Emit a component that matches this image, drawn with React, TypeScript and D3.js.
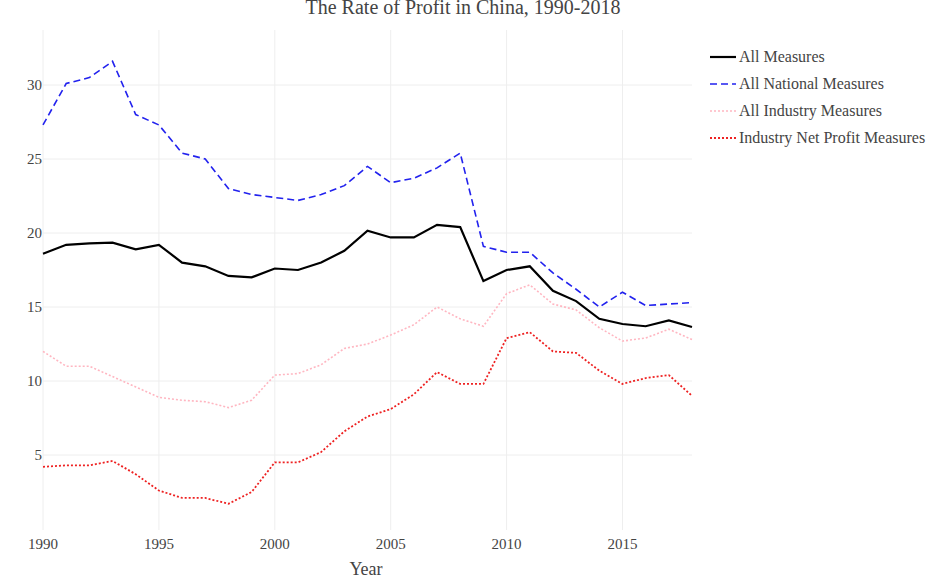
import React from 'react';
import * as d3 from 'd3';

const years = d3.range(1990, 2019);
const allMeasures = [18.6, 19.2, 19.3, 19.35, 18.9, 19.2, 18.0, 17.75, 17.1, 17.0, 17.6, 17.5, 18.0, 18.8, 20.15, 19.7, 19.7, 20.55, 20.4, 16.75, 17.5, 17.75, 16.1, 15.4, 14.2, 13.85, 13.7, 14.1, 13.65];
const national = [27.3, 30.1, 30.5, 31.6, 28.0, 27.3, 25.4, 25.0, 23.0, 22.6, 22.4, 22.2, 22.6, 23.2, 24.5, 23.4, 23.7, 24.4, 25.4, 19.1, 18.7, 18.7, 17.3, 16.2, 15.0, 16.0, 15.1, 15.2, 15.3];
const industry = [12.0, 11.0, 11.0, 10.3, 9.6, 8.9, 8.7, 8.6, 8.2, 8.7, 10.4, 10.5, 11.1, 12.2, 12.5, 13.1, 13.8, 15.0, 14.2, 13.7, 15.9, 16.5, 15.2, 14.8, 13.6, 12.7, 12.9, 13.5, 12.8];
const netProfit = [4.2, 4.3, 4.3, 4.6, 3.7, 2.6, 2.1, 2.1, 1.7, 2.5, 4.5, 4.5, 5.2, 6.6, 7.6, 8.1, 9.1, 10.6, 9.8, 9.8, 12.9, 13.3, 12.0, 11.9, 10.7, 9.8, 10.2, 10.4, 9.0];
const xTicks = [1990, 1995, 2000, 2005, 2010, 2015];
const yTicks = [5, 10, 15, 20, 25, 30];

const series = [
  { name: 'All Measures', values: allMeasures, color: '#000', width: 2.2, dash: '' },
  { name: 'All National Measures', values: national, color: '#2222ee', width: 1.6, dash: '7,4' },
  { name: 'All Industry Measures', values: industry, color: '#ffb6c1', width: 1.6, dash: '2,2' },
  { name: 'Industry Net Profit Measures', values: netProfit, color: '#ee2222', width: 1.8, dash: '2,2' },
];

export default function App() {
  const x = d3.scaleLinear().domain([1990, 2018]).range([43, 692]);
  const y = d3.scaleLinear().domain([5, 30]).range([455, 85]);
  const line = d3.line<number>().x((_, i) => x(years[i])).y(d => y(d));
  const font = '"Liberation Serif", "Times New Roman", serif';
  return (
    <svg width={932} height={581} style={{ position: 'absolute', left: 0, top: 0, fontFamily: font }}>
      <rect width={932} height={581} fill="#fff" />
      <text x={463} y={14} textAnchor="middle" fontSize={20} fill="#444">The Rate of Profit in China, 1990-2018</text>
      {xTicks.map(t => (
        <g key={t}>
          <line x1={x(t)} x2={x(t)} y1={30} y2={530} stroke="#eee" />
          <text x={x(t)} y={549} textAnchor="middle" fontSize={15} fill="#444">{t}</text>
        </g>
      ))}
      {yTicks.map(t => (
        <g key={t}>
          <line x1={43} x2={692} y1={y(t)} y2={y(t)} stroke="#eee" />
          <text x={42} y={y(t) + 5} textAnchor="end" fontSize={15} fill="#444">{t}</text>
        </g>
      ))}
      <text x={366} y={575} textAnchor="middle" fontSize={18} fill="#444">Year</text>
      {series.map(s => (
        <path key={s.name} d={line(s.values) ?? ''} fill="none" stroke={s.color} strokeWidth={s.width} strokeDasharray={s.dash} />
      ))}
      {series.map((s, i) => (
        <g key={s.name} transform={`translate(710,${57 + i * 27})`}>
          <line x1={0} x2={26} y1={0} y2={0} stroke={s.color} strokeWidth={s.width} strokeDasharray={s.dash} />
          <text x={29} y={5} fontSize={16} fill="#444">{s.name}</text>
        </g>
      ))}
    </svg>
  );
}
